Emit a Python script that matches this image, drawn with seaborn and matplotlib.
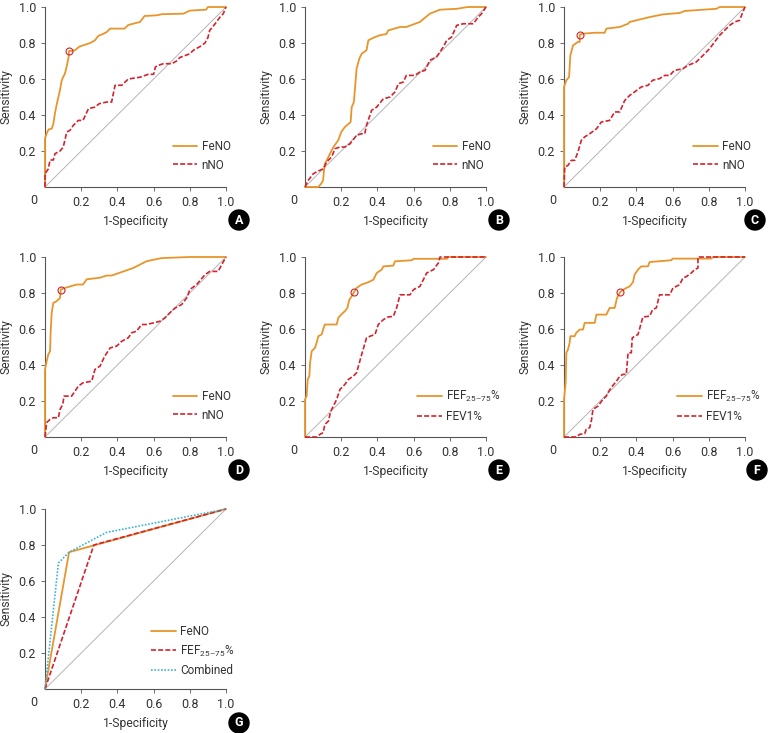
import matplotlib
matplotlib.use("Agg")
import matplotlib.pyplot as plt
import seaborn as sns

# ==========================
# DATA
# ==========================
a_feno_x = [0, 0, 0.01, 0.02, 0.037, 0.046, 0.055, 0.065, 0.074, 0.083, 0.092, 0.10, 0.11, 0.12, 0.13, 0.133,
            0.147, 0.166, 0.19, 0.25, 0.276, 0.295, 0.32, 0.34, 0.36, 0.44, 0.46, 0.525, 0.55, 0.62, 0.645,
            0.765, 0.80, 0.89, 0.90, 1.0]
a_feno_y = [0, 0.27, 0.30, 0.32, 0.324, 0.35, 0.41, 0.46, 0.50, 0.54, 0.59, 0.61, 0.63, 0.67, 0.72, 0.756,
            0.756, 0.76, 0.78, 0.80, 0.815, 0.84, 0.85, 0.86, 0.88, 0.88, 0.90, 0.917, 0.95, 0.954, 0.96,
            0.963, 0.98, 0.985, 1.0, 1.0]
a_nno_x = [0, 0, 0.018, 0.028, 0.046, 0.055, 0.083, 0.10, 0.11, 0.12, 0.138, 0.157, 0.184, 0.21, 0.24, 0.276,
           0.30, 0.34, 0.368, 0.387, 0.424, 0.46, 0.525, 0.57, 0.60, 0.61, 0.626, 0.654, 0.70, 0.727, 0.746,
           0.773, 0.80, 0.82, 0.856, 0.884, 0.90, 0.91, 0.94, 0.967, 0.985, 1.0]
a_nno_y = [0, 0.074, 0.10, 0.15, 0.15, 0.185, 0.20, 0.22, 0.26, 0.305, 0.315, 0.343, 0.37, 0.37, 0.435, 0.444,
           0.463, 0.472, 0.472, 0.565, 0.565, 0.60, 0.61, 0.626, 0.626, 0.667, 0.676, 0.685, 0.685, 0.70, 0.72,
           0.73, 0.74, 0.76, 0.78, 0.80, 0.83, 0.87, 0.907, 0.944, 0.963, 1.0]
a_cut = (0.133, 0.756)

b_feno_x = [0, 0.074, 0.092, 0.10, 0.105, 0.11, 0.12, 0.138, 0.157, 0.184, 0.20, 0.22, 0.24, 0.252, 0.258, 0.27,
            0.285, 0.30, 0.313, 0.34, 0.35, 0.387, 0.414, 0.45, 0.46, 0.525, 0.56, 0.635, 0.69, 0.746, 0.838,
            0.90, 1.0]
b_feno_y = [0, 0, 0.022, 0.037, 0.093, 0.13, 0.148, 0.185, 0.222, 0.26, 0.305, 0.333, 0.35, 0.361, 0.444, 0.472,
            0.657, 0.713, 0.74, 0.76, 0.815, 0.833, 0.843, 0.85, 0.87, 0.889, 0.889, 0.917, 0.963, 0.985, 0.99,
            1.0, 1.0]
b_nno_x = [0, 0.018, 0.046, 0.083, 0.10, 0.12, 0.147, 0.166, 0.193, 0.22, 0.249, 0.285, 0.313, 0.33, 0.34, 0.368,
           0.396, 0.433, 0.47, 0.497, 0.516, 0.543, 0.56, 0.607, 0.635, 0.663, 0.69, 0.727, 0.764, 0.783, 0.81,
           0.838, 0.875, 0.93, 0.957, 0.976, 1.0]
b_nno_y = [0, 0.037, 0.074, 0.093, 0.10, 0.139, 0.167, 0.213, 0.222, 0.222, 0.24, 0.287, 0.296, 0.296, 0.343,
           0.426, 0.444, 0.49, 0.50, 0.528, 0.574, 0.583, 0.62, 0.62, 0.639, 0.648, 0.704, 0.722, 0.778, 0.815,
           0.833, 0.898, 0.907, 0.907, 0.944, 0.963, 1.0]

c_feno_x = [0, 0, 0.013, 0.028, 0.035, 0.05, 0.077, 0.087, 0.087, 0.105, 0.17, 0.225, 0.234, 0.308, 0.354, 0.363,
            0.473, 0.547, 0.64, 0.667, 0.768, 0.842, 0.86, 1.0]
c_feno_y = [0, 0.556, 0.593, 0.61, 0.731, 0.787, 0.806, 0.806, 0.846, 0.852, 0.857, 0.857, 0.88, 0.889, 0.907,
            0.917, 0.944, 0.959, 0.967, 0.978, 0.985, 0.99, 1.0, 1.0]
c_nno_x = [0, 0.004, 0.022, 0.04, 0.059, 0.077, 0.096, 0.114, 0.142, 0.18, 0.206, 0.252, 0.28, 0.308, 0.335, 0.363,
           0.39, 0.427, 0.464, 0.49, 0.528, 0.556, 0.584, 0.61, 0.657, 0.685, 0.73, 0.768, 0.805, 0.832, 0.86,
           0.897, 0.915, 0.943, 0.97, 0.988, 1.0]
c_nno_y = [0, 0.111, 0.12, 0.148, 0.148, 0.194, 0.26, 0.278, 0.296, 0.324, 0.361, 0.37, 0.417, 0.417, 0.48, 0.509,
           0.528, 0.556, 0.565, 0.593, 0.602, 0.62, 0.62, 0.648, 0.657, 0.676, 0.694, 0.731, 0.769, 0.806, 0.843,
           0.88, 0.898, 0.917, 0.926, 0.972, 1.0]
c_cut = (0.087, 0.846)

d_feno_x = [0, 0, 0.009, 0.018, 0.028, 0.031, 0.037, 0.046, 0.064, 0.083, 0.087, 0.11, 0.175, 0.21, 0.23, 0.304,
            0.34, 0.368, 0.488, 0.56, 0.60, 0.645, 0.80, 1.0]
d_feno_y = [0, 0.375, 0.42, 0.458, 0.477, 0.578, 0.69, 0.745, 0.754, 0.773, 0.819, 0.828, 0.847, 0.847, 0.876,
            0.885, 0.897, 0.897, 0.939, 0.976, 0.985, 0.994, 1.0, 1.0]
d_nno_x = [0, 0.009, 0.028, 0.046, 0.074, 0.083, 0.098, 0.105, 0.147, 0.166, 0.184, 0.21, 0.258, 0.276, 0.304,
           0.33, 0.36, 0.396, 0.424, 0.46, 0.479, 0.506, 0.534, 0.56, 0.60, 0.635, 0.663, 0.69, 0.718, 0.755,
           0.783, 0.79, 0.80, 0.838, 0.884, 0.91, 0.957, 0.976, 1.0]
d_nno_y = [0, 0.08, 0.098, 0.107, 0.107, 0.153, 0.181, 0.227, 0.227, 0.255, 0.283, 0.301, 0.31, 0.375, 0.394,
           0.449, 0.495, 0.505, 0.532, 0.551, 0.579, 0.588, 0.625, 0.625, 0.634, 0.643, 0.662, 0.69, 0.716,
           0.736, 0.773, 0.79, 0.819, 0.847, 0.902, 0.92, 0.92, 0.957, 1.0]
d_cut = (0.087, 0.819)

e_fef_x = [0, 0, 0.009, 0.015, 0.024, 0.028, 0.037, 0.055, 0.064, 0.074, 0.092, 0.10, 0.11, 0.175, 0.184, 0.20,
           0.22, 0.234, 0.245, 0.258, 0.27, 0.285, 0.313, 0.35, 0.378, 0.396, 0.424, 0.433, 0.488, 0.497, 0.59,
           0.60, 0.785, 0.79, 1.0]
e_fef_y = [0, 0.209, 0.227, 0.32, 0.338, 0.412, 0.477, 0.495, 0.523, 0.56, 0.57, 0.597, 0.625, 0.625, 0.662,
           0.68, 0.699, 0.717, 0.763, 0.782, 0.804, 0.828, 0.847, 0.86, 0.874, 0.911, 0.93, 0.948, 0.952, 0.976,
           0.982, 0.99, 0.99, 1.0, 1.0]
e_fev_x = [0, 0.064, 0.083, 0.10, 0.11, 0.13, 0.138, 0.147, 0.157, 0.175, 0.193, 0.22, 0.24, 0.267, 0.285, 0.313,
           0.34, 0.36, 0.387, 0.405, 0.433, 0.46, 0.488, 0.506, 0.525, 0.58, 0.60, 0.635, 0.654, 0.672, 0.71,
           0.737, 0.746, 1.0]
e_fev_y = [0, 0, 0.015, 0.024, 0.07, 0.089, 0.126, 0.153, 0.172, 0.209, 0.264, 0.292, 0.32, 0.338, 0.357, 0.458,
           0.551, 0.56, 0.57, 0.625, 0.652, 0.667, 0.67, 0.717, 0.79, 0.79, 0.819, 0.837, 0.874, 0.911, 0.93,
           0.967, 1.0, 1.0]
e_cut = (0.27, 0.804)

f_fef_x = [0, 0, 0.009, 0.013, 0.022, 0.031, 0.035, 0.059, 0.068, 0.087, 0.105, 0.114, 0.17, 0.179, 0.234, 0.252,
           0.28, 0.293, 0.311, 0.335, 0.363, 0.381, 0.39, 0.409, 0.427, 0.464, 0.473, 0.593, 0.60, 0.814, 0.823,
           1.0]
f_fef_y = [0, 0.209, 0.301, 0.468, 0.486, 0.523, 0.56, 0.56, 0.579, 0.597, 0.597, 0.634, 0.634, 0.68, 0.68,
           0.717, 0.717, 0.773, 0.806, 0.823, 0.837, 0.86, 0.902, 0.93, 0.948, 0.948, 0.972, 0.982, 0.991, 0.991,
           1.0, 1.0]
f_fev_x = [0, 0.068, 0.087, 0.114, 0.123, 0.142, 0.151, 0.16, 0.188, 0.215, 0.234, 0.243, 0.26, 0.29, 0.308,
           0.326, 0.344, 0.354, 0.372, 0.377, 0.409, 0.436, 0.473, 0.49, 0.51, 0.528, 0.584, 0.602, 0.639, 0.657,
           0.676, 0.703, 0.722, 0.74, 0.74, 1.0]
f_fev_y = [0, 0, 0.015, 0.018, 0.043, 0.052, 0.089, 0.153, 0.172, 0.209, 0.227, 0.246, 0.274, 0.31, 0.338, 0.348,
           0.348, 0.468, 0.468, 0.551, 0.57, 0.667, 0.671, 0.708, 0.717, 0.79, 0.79, 0.828, 0.846, 0.883, 0.891,
           0.911, 0.93, 0.939, 1.0, 1.0]
f_cut = (0.311, 0.806)

g_feno_x = [0, 0.133, 1.0]
g_feno_y = [0, 0.76, 1.0]
g_fef_x = [0, 0.27, 1.0]
g_fef_y = [0, 0.80, 1.0]
g_comb_x = [0, 0.074, 0.133, 0.34, 1.0]
g_comb_y = [0, 0.70, 0.76, 0.87, 1.0]

tick_vals = [0.2, 0.4, 0.6, 0.8, 1.0]
tick_labels = ["0.2", "0.4", "0.6", "0.8", "1.0"]
fef_label = "FEF$_{\\mathregular{25\u201375}}$%"

# ==========================
# STYLE
# ==========================
sns.set_style("ticks")
plt.rcParams["font.family"] = ["Roboto", "DejaVu Sans"]
plt.rcParams["mathtext.fontset"] = "custom"
plt.rcParams["mathtext.rm"] = "Roboto"

ORANGE = "#E8952B"
RED = "#D2232E"
CYAN = "#3DB3D3"
GRAY = "#B5B5B5"
AXC = "#555555"
TXT = "#333333"

W, H = 770, 733
fig = plt.figure(figsize=(W / 100, H / 100), dpi=100)


def make_ax(left_px, top_px):
    return fig.add_axes([left_px / W, 1 - (top_px + 180) / H, 181 / W, 180 / H])


def style_ax(ax):
    ax.set_xlim(0, 1)
    ax.set_ylim(0, 1)
    ax.plot([0, 1], [0, 1], color=GRAY, lw=0.7, zorder=1)
    sns.despine(ax=ax)
    for s in ["left", "bottom"]:
        ax.spines[s].set_color(AXC)
        ax.spines[s].set_linewidth(0.8)
    ax.set_xticks(tick_vals)
    ax.set_xticklabels(tick_labels)
    ax.set_yticks(tick_vals)
    ax.set_yticklabels(tick_labels)
    ax.tick_params(length=3, width=0.6, color=AXC, labelsize=9, labelcolor=TXT, pad=3.5)
    ax.text(-0.06, -0.075, "0", transform=ax.transAxes, ha="center", va="center",
            fontsize=9, color=TXT)
    ax.set_xlabel("1-Specificity", fontsize=8.7, color=TXT, labelpad=4)
    ax.set_ylabel("Sensitivity", fontsize=8.7, color=TXT, labelpad=4)


def curve(ax, x, y, color, ls, label, lw=1.3):
    sns.lineplot(x=x, y=y, ax=ax, sort=False, estimator=None, color=color,
                 linestyle=ls, lw=lw, label=label, clip_on=False, zorder=3)


def cut_marker(ax, pt):
    ax.plot([pt[0]], [pt[1]], marker="o", ms=5, mfc="none", mec=RED, mew=0.8, zorder=4)


def legend(ax, x0, y0):
    ax.legend(loc="upper left", bbox_to_anchor=(x0, y0), frameon=False, fontsize=8.5,
              handlelength=2.1, handletextpad=0.35, labelspacing=0.45, borderpad=0,
              borderaxespad=0, labelcolor=TXT)


def tag(xp, yp, letter):
    fig.text(xp / W, 1 - yp / H, letter, ha="center", va="center", color="white",
             fontsize=9, fontweight="bold",
             bbox=dict(boxstyle="circle,pad=0.28", fc="black", ec="black"))


DASH = (0, (3, 1.3))
DOT = (0, (1, 1))

# A
ax = make_ax(45, 7)
style_ax(ax)
curve(ax, a_feno_x, a_feno_y, ORANGE, "-", "FeNO")
curve(ax, a_nno_x, a_nno_y, RED, DASH, "nNO", lw=1.2)
cut_marker(ax, a_cut)
legend(ax, 0.705, 0.26)
tag(239, 220, "A")

# B
ax = make_ax(305, 7)
style_ax(ax)
curve(ax, b_feno_x, b_feno_y, ORANGE, "-", "FeNO")
curve(ax, b_nno_x, b_nno_y, RED, DASH, "nNO", lw=1.2)
legend(ax, 0.705, 0.26)
tag(499, 220, "B")

# C
ax = make_ax(564, 7)
style_ax(ax)
curve(ax, c_feno_x, c_feno_y, ORANGE, "-", "FeNO")
curve(ax, c_nno_x, c_nno_y, RED, DASH, "nNO", lw=1.2)
cut_marker(ax, c_cut)
legend(ax, 0.713, 0.26)
tag(755, 220, "C")

# D
ax = make_ax(45, 257)
style_ax(ax)
curve(ax, d_feno_x, d_feno_y, ORANGE, "-", "FeNO")
curve(ax, d_nno_x, d_nno_y, RED, DASH, "nNO", lw=1.2)
cut_marker(ax, d_cut)
legend(ax, 0.705, 0.26)
tag(239, 470, "D")

# E
ax = make_ax(305, 257)
style_ax(ax)
curve(ax, e_fef_x, e_fef_y, ORANGE, "-", fef_label)
curve(ax, e_fev_x, e_fev_y, RED, DASH, "FEV1%", lw=1.2)
cut_marker(ax, e_cut)
legend(ax, 0.62, 0.265)
tag(499, 470, "E")

# F
ax = make_ax(564, 257)
style_ax(ax)
curve(ax, f_fef_x, f_fef_y, ORANGE, "-", fef_label)
curve(ax, f_fev_x, f_fev_y, RED, DASH, "FEV1%", lw=1.2)
cut_marker(ax, f_cut)
legend(ax, 0.624, 0.265)
tag(757, 470, "F")

# G
ax = make_ax(45, 509)
style_ax(ax)
curve(ax, g_feno_x, g_feno_y, ORANGE, "-", "FeNO")
curve(ax, g_fef_x, g_fef_y, RED, DASH, fef_label, lw=1.2)
curve(ax, g_comb_x, g_comb_y, CYAN, DOT, "Combined", lw=1.2)
legend(ax, 0.585, 0.355)
tag(239, 723, "G")

fig.savefig("out.png", dpi=100)
plt.close(fig)
